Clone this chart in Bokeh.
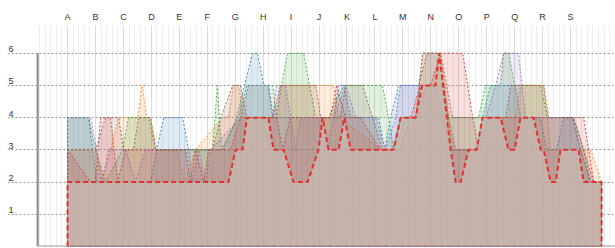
from bokeh.plotting import figure
from bokeh.models import FixedTicker, Range1d
from bokeh.core.properties import value
from bokeh.embed import file_html
from bokeh.resources import INLINE
import numpy as np

CATEGORIES = list("ABCDEFGHIJKLMNOPQRS")
Y_TICKS = [1, 2, 3, 4, 5, 6]

BLUE_X = [0, 0.75, 1.04, 2.97, 3.19, 3.44, 4.12, 4.33, 5.55, 6.05, 6.33, 6.62, 6.80, 7.02, 7.19, 7.37,
          9.52, 9.70, 9.88, 10.13, 11.13, 11.35, 11.56, 11.85, 12.56, 12.88, 13.28, 13.64, 13.89, 14.64, 14.85, 15.14,
          16.03, 16.21, 16.93, 17.14, 17.50, 17.75, 18.07, 18.36, 18.72, 19.11]
BLUE_Y = [4, 4, 2, 2, 3, 4, 4, 3, 3, 4, 5, 6, 6, 5, 5, 4,
          4, 5, 5, 4, 4, 3, 4, 5, 5, 6, 6, 4, 3, 3, 4, 5,
          5, 4, 4, 3, 3, 4, 4, 3, 2, 2]

ORANGE_X = [0, 1.00, 1.18, 1.54, 1.83, 2.51, 2.67, 2.83, 2.97, 3.19, 3.87, 4.22, 4.58, 5.55, 5.76, 5.94, 6.12, 6.30, 7.45, 7.62,
            9.52, 9.70, 11.27, 11.74, 12.10, 12.46, 12.71, 13.35, 13.78, 14.64, 14.92, 16.03, 16.21, 17.04, 17.29, 18.72, 19.11]
ORANGE_Y = [3, 3, 2, 3, 4, 4, 5, 4, 4, 3, 3, 2, 3, 4, 4, 5, 5, 4, 4, 5,
            5, 4, 3, 3, 4, 4, 6, 6, 3, 3, 4, 4, 5, 5, 3, 3, 2]

GREEN_X = [0, 0.75, 1.00, 1.36, 1.97, 2.18, 2.90, 3.15, 5.19, 5.36, 5.51, 6.12, 6.41, 7.34, 7.48, 7.66, 7.87, 8.45, 8.66, 8.88,
           9.34, 9.88, 11.27, 11.49, 11.67, 11.92, 12.56, 12.81, 13.35, 13.64, 14.71, 14.96, 15.50, 15.60, 15.78, 16.00, 16.93, 17.18, 18.11, 18.47,
           18.72, 19.11]
GREEN_Y = [4, 4, 3, 2, 3, 4, 4, 3, 3, 5, 3, 4, 5, 5, 4, 5, 6, 6, 5, 4,
           4, 5, 5, 4, 3, 4, 4, 5, 5, 4, 4, 5, 5, 6, 6, 5, 5, 4, 4, 3,
           2, 2]

RED_X = [0, 0.82, 1.00, 1.18, 1.54, 1.79, 2.08, 3.33, 4.22, 4.40, 4.58, 4.87, 5.05, 5.83, 6.19, 7.48, 7.70, 7.98, 9.41, 9.63,
         9.95, 10.49, 11.20, 11.92, 12.63, 12.99, 13.35, 14.14, 14.50, 14.71, 15.07, 18.47, 18.83, 19.11]
RED_Y = [3, 2, 2, 4, 4, 2, 3, 3, 3, 2, 3, 2, 3, 3, 4, 4, 3, 4, 4, 5,
         4, 4, 3, 3, 5, 5, 6, 6, 4, 3, 4, 4, 2, 2]

PURPLE_X = [0, 0.82, 1.04, 1.25, 1.47, 2.08, 2.43, 2.79, 4.33, 4.47, 4.69, 4.94, 5.12, 6.19, 6.48, 7.19, 7.34, 7.48, 7.80, 7.98,
            8.16, 8.34, 9.06, 9.27, 9.52, 9.95, 10.31, 11.02, 11.38, 11.74, 11.92, 13.17, 13.71, 14.64, 14.96, 15.32, 15.60, 16.14, 16.39, 17.75,
            18.07, 18.36, 18.72, 19.11]
PURPLE_Y = [4, 4, 3, 2, 3, 3, 2, 3, 3, 2, 3, 2, 3, 4, 5, 5, 4, 5, 5, 4,
            3, 4, 4, 3, 4, 5, 4, 4, 3, 4, 5, 5, 3, 3, 4, 5, 6, 6, 4, 4,
            4, 3, 2, 2]

BROWN_X = [0, 1.00, 1.36, 1.83, 2.00, 2.36, 2.54, 2.97, 3.15, 5.19, 5.48, 5.91, 6.19, 6.41, 7.34, 7.62, 8.88, 9.06, 9.77, 9.95,
           10.56, 11.27, 11.63, 11.92, 12.46, 12.71, 13.35, 13.78, 14.78, 15.68, 15.86, 17.04, 17.22, 18.11, 18.47, 18.83, 19.11]
BROWN_Y = [3, 3, 4, 4, 3, 3, 4, 4, 3, 3, 4, 5, 5, 4, 4, 5, 5, 4, 4, 5,
           5, 3, 3, 4, 4, 6, 6, 4, 4, 4, 5, 5, 4, 4, 3, 2, 2]

MIN_X = [0, 5.76, 6.01, 6.26, 6.42, 7.19, 7.37, 7.73, 8.09, 8.59, 8.98, 9.13, 9.34, 9.70, 9.91, 10.13, 11.67, 11.92, 12.46, 12.69,
         13.17, 13.30, 13.71, 13.89, 14.07, 14.35, 14.64, 14.85, 15.50, 15.78, 16.00, 16.21, 16.68, 16.93, 17.04, 17.29, 17.47, 17.64, 18.29, 18.47,
         19.11]
MIN_Y = [2, 2, 3, 3, 4, 4, 3, 3, 2, 2, 3, 4, 3, 3, 4, 3, 3, 4, 4, 5,
         5, 6, 3, 2, 2, 3, 3, 4, 4, 3, 3, 4, 4, 3, 3, 2, 2, 3, 3, 2,
         2]

SERIES = [
    (BLUE_X, BLUE_Y, "#1f77b4"),
    (ORANGE_X, ORANGE_Y, "#ff7f0e"),
    (GREEN_X, GREEN_Y, "#2ca02c"),
    (RED_X, RED_Y, "#d62728"),
    (PURPLE_X, PURPLE_Y, "#9467bd"),
    (BROWN_X, BROWN_Y, "#8c564b"),
]

X_START, X_END = -2.15, 19.61
AXIS_X = -1.07

p = figure(width=615, height=248, x_range=Range1d(X_START, X_END), y_range=Range1d(0, 6.86),
           output_backend="svg", toolbar_location=None, x_axis_location="above", y_axis_location=None,
           min_border_left=7, min_border_right=0, min_border_top=25, min_border_bottom=2)
p.outline_line_color = None
p.background_fill_color = "white"

ax = p.xaxis[0]
ax.ticker = FixedTicker(ticks=list(range(len(CATEGORIES))))
ax.major_label_overrides = {i: c for i, c in enumerate(CATEGORIES)}
ax.axis_line_color = None
ax.major_tick_line_color = None
ax.minor_tick_line_color = None
ax.major_tick_out = 0
ax.major_tick_in = 0
ax.major_label_text_font = "Liberation Sans"
ax.major_label_text_font_size = "9px"
ax.major_label_text_color = "#333333"
ax.major_label_standoff = 4

p.xgrid.ticker = FixedTicker(ticks=list(range(len(CATEGORIES))),
                             minor_ticks=list(np.round(np.arange(-1.0, X_END, 0.2), 2)))
p.xgrid.grid_line_color = "#dadada"
p.xgrid.minor_grid_line_color = "#ededed"
p.xgrid.bounds = (AXIS_X + 0.01, X_END)

p.ygrid.ticker = FixedTicker(ticks=Y_TICKS)
p.ygrid.grid_line_color = "#9a9a9a"
p.ygrid.grid_line_dash = "2 2"

for xs, ys, col in SERIES:
    px = [xs[0]] + list(xs) + [xs[-1]]
    py = [0] + list(ys) + [0]
    p.patch(px, py, fill_color=col, fill_alpha=0.15, line_color=col, line_alpha=0.8,
            line_width=1, line_dash="2 2")

mx = [MIN_X[0]] + MIN_X + [MIN_X[-1]]
my = [0] + MIN_Y + [0]
p.patch(mx, my, fill_color="#cbbfb7", fill_alpha=0.65, line_color="#e3312d", line_width=2, line_dash="5 3")

p.segment(x0=[AXIS_X], y0=[0], x1=[AXIS_X], y1=[Y_TICKS[-1]], line_color="#888888", line_width=2)
p.segment(x0=[AXIS_X], y0=[0], x1=[X_END], y1=[0], line_color="#999999", line_width=2)

p.text(x=[X_START + 0.04] * len(Y_TICKS), y=Y_TICKS, text=[str(v) for v in Y_TICKS],
       text_font=value("Liberation Sans"), text_font_size="9px", text_color="#333333",
       text_align="left", text_baseline="bottom", y_offset=-1)

open("out.html", "w").write(file_html(p, INLINE))
